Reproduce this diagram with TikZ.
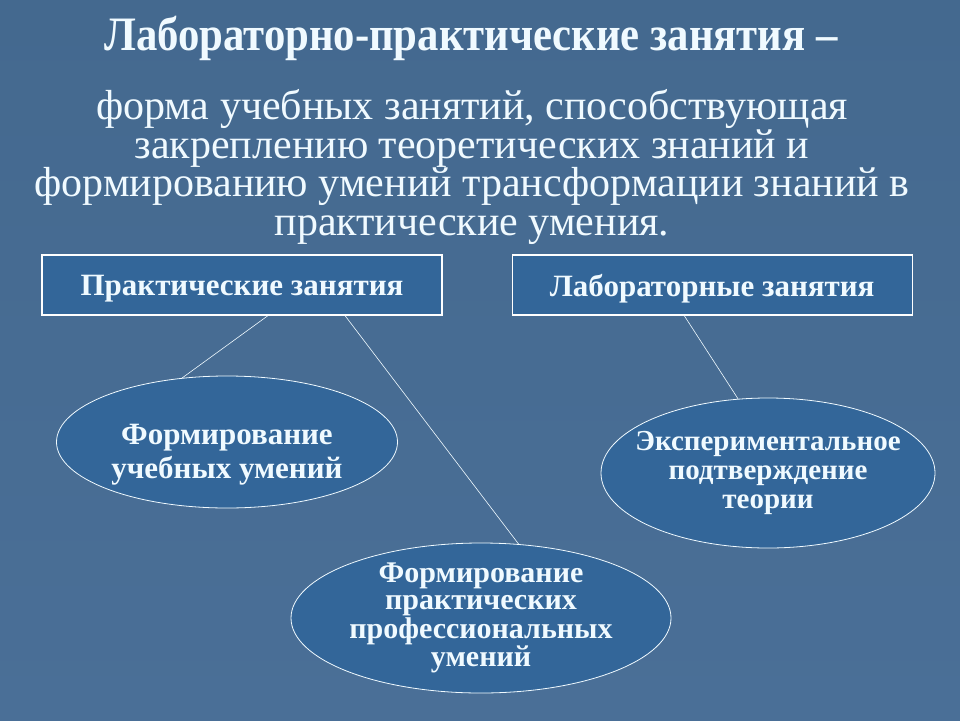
\documentclass[tikz,border=0pt]{standalone}
\usepackage{fontspec}
\setmainfont{Liberation Serif}
\newfontfamily\titlefont[FakeStretch=0.89]{Liberation Serif}
\usetikzlibrary{positioning, shapes.geometric}
\definecolor{slidebg}{HTML}{4A6F97}
\definecolor{slidetop}{HTML}{44698F}
\definecolor{boxblue}{HTML}{336699}
\definecolor{paletext}{HTML}{F0FAFF}

\begin{document}
\begin{tikzpicture}[x=1pt, y=-1pt, every node/.style={text=paletext},
    topicbox/.style={rectangle, draw=white, line width=1.2pt, fill=boxblue, minimum width=400pt, minimum height=60pt, text depth=-4pt, font=\bfseries\fontsize{31}{36}\selectfont},
    oval/.style={ellipse, draw=paletext, line width=0.8pt, fill=boxblue, inner xsep=-40pt, inner ysep=-10pt, align=center},
    link/.style={draw=paletext, line width=0.6pt}]
    \shade[top color=slidetop, bottom color=slidebg] (0,0) rectangle (960,720);
    \useasboundingbox (0,0) rectangle (960,720);
    \node[anchor=base, font=\titlefont\bfseries\fontsize{48}{50}\selectfont](title) at (471,50){Лабораторно-практические занятия –};
    \node[align=center, inner sep=0pt, font=\fontsize{42}{38.5}\selectfont](def) at (472,167){форма учебных занятий, способствующая\\ закреплению теоретических знаний и\\ формированию умений трансформации знаний в\\ практические умения.};
    \node[topicbox](prak) at (242,285){Практические занятия};
    \node[topicbox, right=69pt of prak](lab){Лабораторные занятия};
    \node[oval, minimum width=341pt, minimum height=132pt, font=\bfseries\fontsize{31}{34}\selectfont](study) at (227,442){\raisebox{-36pt}[0pt][0pt]{\begin{tabular}[b]{@{}c@{}}Формирование\\ учебных умений\end{tabular}}};
    \node[oval, minimum width=380pt, minimum height=150pt, font=\bfseries\fontsize{30}{27}\selectfont](prof) at (481,618){Формирование\\ практических\\ профессиональных\\ умений};
    \node[oval, minimum width=334pt, minimum height=150pt, font=\bfseries\fontsize{29}{29}\selectfont](theory) at (768,473){Экспериментальное\\ подтверждение\\ теории};
    % Lines
    \draw[link] ([xshift=26pt]prak.south) -- (study.125);
    \draw[link] ([xshift=103pt]prak.south) -- (prof.63);
    \draw[link] ([xshift=-28pt]lab.south) -- (theory.112);
\end{tikzpicture}
\end{document}
